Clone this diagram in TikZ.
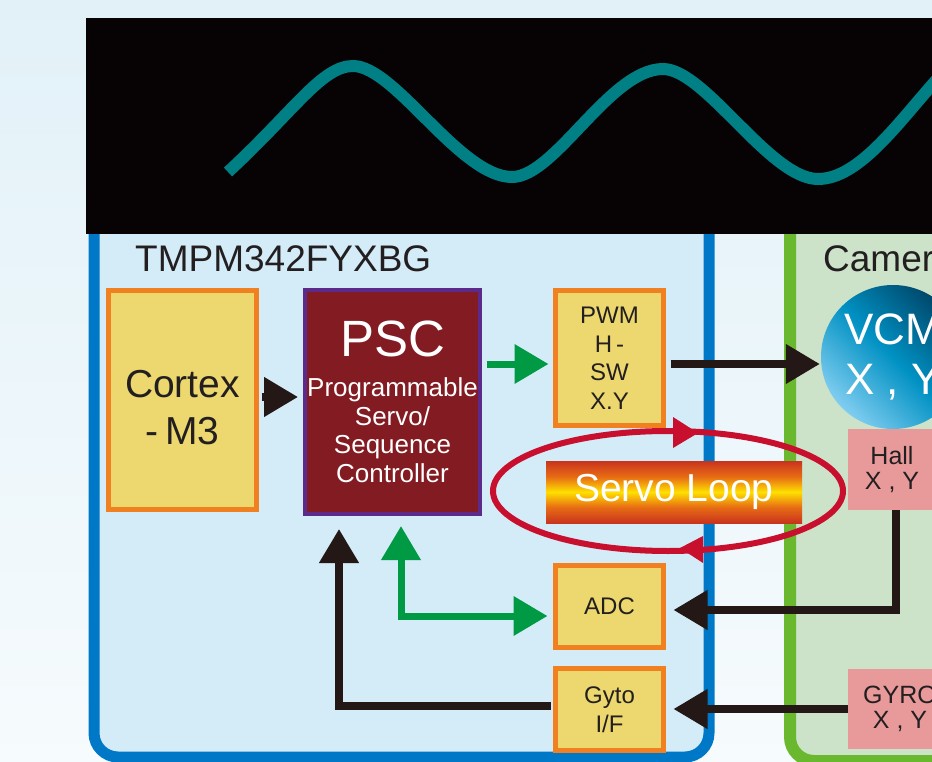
\documentclass[tikz,border=0pt]{standalone}
\usepackage{fontspec}
\setmainfont{Liberation Sans}
\usetikzlibrary{arrows.meta}
\definecolor{bgtop}{RGB}{226,241,248}
\definecolor{bgbot}{RGB}{246,251,253}
\definecolor{chipblue}{RGB}{0,120,200}
\definecolor{chipfill}{RGB}{212,235,248}
\definecolor{camgreen}{RGB}{106,184,46}
\definecolor{camfill}{RGB}{204,227,201}
\definecolor{banner}{RGB}{7,3,4}
\definecolor{wave}{RGB}{0,127,133}
\definecolor{boxfill}{RGB}{236,216,110}
\definecolor{boxedge}{RGB}{240,128,32}
\definecolor{pscfill}{RGB}{131,28,34}
\definecolor{pscedge}{RGB}{92,42,138}
\definecolor{sensorpink}{RGB}{232,154,154}
\definecolor{arrowgreen}{RGB}{0,154,68}
\definecolor{arrowblack}{RGB}{35,24,21}
\definecolor{loopred}{RGB}{200,16,46}
\definecolor{barred}{RGB}{185,20,35}
\definecolor{barorange}{RGB}{232,110,20}
\definecolor{baryellow}{RGB}{255,224,0}
\definecolor{textdark}{RGB}{35,31,32}
\definecolor{vcmdark}{RGB}{0,70,105}
\definecolor{vcmmid}{RGB}{0,145,195}
\definecolor{vcmlight}{RGB}{128,205,240}
\pgfdeclareverticalshading{servobar}{100bp}{color(0bp)=(barred); color(18bp)=(barred); color(38bp)=(barorange); color(50bp)=(baryellow); color(62bp)=(barorange); color(82bp)=(barred); color(100bp)=(barred)}

\begin{document}
\begin{tikzpicture}
	[x=1pt,y=-1pt,
	Head/.tip={Triangle[length=34pt,width=38pt]},
	blk/.style={draw=arrowblack,line width=7.5pt,-Head},
	grn/.style={draw=arrowgreen,line width=7pt,-Head},
	unit/.style={fill=boxfill,draw=boxedge,line width=5pt,align=center,text=textdark,inner sep=0pt,font=\fontsize{24}{28.5}\selectfont},
	sensor/.style={fill=sensorpink,align=center,text=textdark,inner sep=0pt,font=\fontsize{25}{25}\selectfont},
	title/.style={anchor=base west,inner sep=0pt,text=textdark,font=\fontsize{37}{37}\selectfont}]
	\useasboundingbox (0,0) rectangle (932,762);
	\clip (0,0) rectangle (932,762);
	\shade[top color=bgtop,bottom color=bgbot] (0,0) rectangle (932,762);
	
	\draw[draw=chipblue,fill=chipfill,line width=11pt,rounded corners=24pt] (94,150) rectangle (709,757);
	\draw[draw=camgreen,fill=camfill,line width=12pt,rounded corners=24pt] (790,150) rectangle (1000,761);
	\fill[banner] (86,18) rectangle (940,234);
	\draw[wave,line width=12pt] (228,172) .. controls (295,110) and (322,66) .. (353,66)
		.. controls (395,66) and (460,177) .. (512,177)
		.. controls (555,177) and (610,69) .. (663,69)
		.. controls (705,69) and (770,179) .. (818,179)
		.. controls (860,179) and (900,120) .. (940,76);
	
	\node[title] (chip) at (135,272) {TMPM342FYXBG};
	\node[title] (camera) at (823,272) {Camera};
	
	\node[unit,minimum width=148pt,minimum height=219pt,
		label={[yshift=-7.5pt,align=center,text=textdark,font=\fontsize{39}{47}\selectfont]center:Cortex\\-\,M3}] (cortex) at (182.5,400) {};
	\node[fill=pscfill,draw=pscedge,line width=4pt,minimum width=175pt,minimum height=224pt,inner sep=0pt,
		align=center,text=white,font=\fontsize{26}{28.5}\selectfont] (psc) at (392.5,402)
		{{\fontsize{51}{51}\selectfont PSC}\\[11.5pt]Programmable\\Servo/\\Sequence\\Controller};
	\node[unit,minimum width=108pt,minimum height=135pt] (pwm) at (609.5,358) {PWM\\H\,-\\SW\\X.Y};
	\node[unit,minimum width=108pt,minimum height=82pt] (adc) at (609.5,606.5) {ADC};
	\node[unit,minimum width=108pt,minimum height=82pt] (gyto) at (609.5,709.5) {Gyto\\I/F};
	\node[circle,minimum size=144pt,inner sep=0pt,top color=vcmdark,bottom color=vcmlight,middle color=vcmmid,shading angle=-45,
		align=center,text=white,font=\fontsize{44}{50}\selectfont] (vcm) at (893,357) {VCM\\X , Y};
	\node[sensor,minimum width=88pt,minimum height=81pt] (hall) at (892,469.5) {Hall\\X , Y};
	\node[sensor,minimum width=104pt,minimum height=80pt] (gyro) at (900,709) {GYRO\\X , Y};
	
	\draw[blk,shorten <=2.5pt,shorten >=5pt] ([yshift=3pt]cortex.east) -- ([yshift=3pt]cortex.east -| psc.west);
	\draw[grn,shorten <=5pt,shorten >=4.5pt] ([yshift=-6pt]pwm.west -| psc.east) -- ([yshift=-6pt]pwm.west);
	\draw[blk,shorten <=4.5pt,shorten >=1pt] ([yshift=-6pt]pwm.east) -- ([yshift=-6pt]pwm.east -| vcm.west);
	\draw[blk,shorten >=7.5pt] ([xshift=4pt]hall.south) |- ([yshift=-3.5pt]adc.east);
	\draw[blk,shorten >=7.5pt] (gyro.west) -- (gyro.west -| gyto.east);
	\draw[blk,shorten <=2.5pt,shorten >=13pt] ([yshift=3.5pt]gyto.west) -| ([xshift=-53.5pt]psc.south);
	\draw[grn,Head-Head,shorten <=10pt,shorten >=5.5pt] ([xshift=8.5pt]psc.south) |- ([yshift=-9.5pt]adc.west);
	
	\draw[loopred,line width=6pt] (668,491) ellipse [x radius=175pt,y radius=60pt];
	\fill[loopred] (673,417) -- (698,433) -- (673,448) -- cycle;
	\fill[loopred] (703,536) -- (680,548) -- (703,563) -- cycle;
	\node[minimum width=256pt,minimum height=62pt,inner sep=0pt,shade,shading=servobar,
		text=white,font=\fontsize{39}{39}\selectfont] (servo) at (674,492) {Servo Loop};
\end{tikzpicture}
\end{document}
